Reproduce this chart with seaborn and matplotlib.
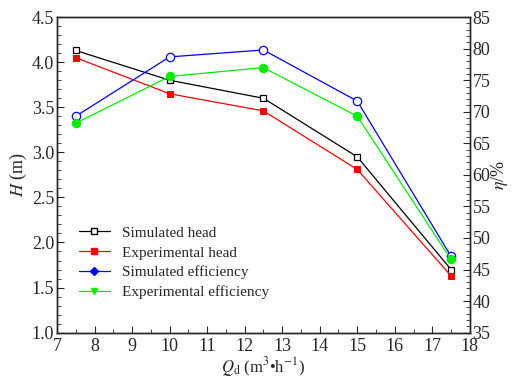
import numpy as np
import pandas as pd
import seaborn as sns
import matplotlib.pyplot as plt
from matplotlib.lines import Line2D
from matplotlib.ticker import MultipleLocator

# datos
flow = [7.5, 10, 12.5, 15, 17.5]
sim_head = [4.13, 3.80, 3.60, 2.95, 1.70]
exp_head = [4.05, 3.65, 3.46, 2.81, 1.63]
sim_eff = [69.3, 78.7, 79.8, 71.7, 47.1]
exp_eff = [68.2, 75.6, 77.0, 69.3, 46.6]

sns.set_style('ticks')
plt.rcParams['font.family'] = ['Liberation Serif', 'DejaVu Serif']
plt.rcParams['mathtext.fontset'] = 'stix'
plt.rcParams['xtick.direction'] = 'in'
plt.rcParams['ytick.direction'] = 'in'

head = pd.DataFrame({'Q': flow, 'sim': sim_head, 'exp': exp_head})
eff = pd.DataFrame({'Q': flow, 'sim': sim_eff, 'exp': exp_eff})

fig, ax = plt.subplots(figsize=(5.14, 3.81), dpi=100)
ax2 = ax.twinx()

sns.lineplot(data=head, x='Q', y='sim', ax=ax, color='black', marker='s', markersize=5,
             markerfacecolor='white', markeredgecolor='black', markeredgewidth=0.9, linewidth=0.9)
sns.lineplot(data=head, x='Q', y='exp', ax=ax, color='red', marker='s', markersize=5,
             markerfacecolor='red', markeredgecolor='red', linewidth=0.9)
sns.lineplot(data=eff, x='Q', y='sim', ax=ax2, color='blue', marker='o', markersize=6,
             markerfacecolor='white', markeredgecolor='blue', markeredgewidth=0.9, linewidth=0.9)
sns.lineplot(data=eff, x='Q', y='exp', ax=ax2, color='#00ee00', marker='o', markersize=6,
             markerfacecolor='#00ee00', markeredgecolor='#00ee00', linewidth=0.9)

ax.set_xlim(7, 18)
ax.set_ylim(1.0, 4.5)
ax2.set_ylim(35, 85)
ax.xaxis.set_major_locator(MultipleLocator(1))
ax.xaxis.set_minor_locator(MultipleLocator(0.5))
ax.yaxis.set_major_locator(MultipleLocator(0.5))
ax.yaxis.set_minor_locator(MultipleLocator(0.1))
ax2.yaxis.set_major_locator(MultipleLocator(5))
ax2.yaxis.set_minor_locator(MultipleLocator(1))
ax.yaxis.set_major_formatter(plt.FormatStrFormatter('%.1f'))

for a in (ax, ax2):
    a.tick_params(which='major', length=5, width=0.8, labelsize=13, pad=2)
    a.tick_params(which='minor', length=3, width=0.6)
    for s in a.spines.values():
        s.set_linewidth(1.0)
        s.set_visible(True)
ax.tick_params(axis='x', which='both', top=False, pad=4)

ax.set_xlabel(r'$Q_{\rm d}$ (m$^3$•h$^{-1}$)', fontsize=12, labelpad=0)
ax.set_ylabel(r'$H$ (m)', fontsize=13, labelpad=2)
ax2.set_ylabel(r'$\eta$/%', fontsize=13, labelpad=-1)

handles = [
    Line2D([], [], color='black', marker='s', markerfacecolor='white', markersize=5, lw=0.9),
    Line2D([], [], color='red', marker='s', markerfacecolor='red', markersize=5, lw=0.9),
    Line2D([], [], color='blue', marker='D', markerfacecolor='blue', markersize=4, lw=0.9),
    Line2D([], [], color='#00ee00', marker='v', markerfacecolor='#00ee00', markersize=5, lw=0.9),
]
labels = ['Simulated head', 'Experimental head', 'Simulated efficiency', 'Experimental efficiency']
ax.legend(handles, labels, loc='lower left', bbox_to_anchor=(0.02, 0.062), frameon=False,
          fontsize=11, handlelength=2.0, labelspacing=0.4)

plt.subplots_adjust(left=0.111, right=0.914, top=0.955, bottom=0.127)
plt.savefig('out.png', dpi=100)
